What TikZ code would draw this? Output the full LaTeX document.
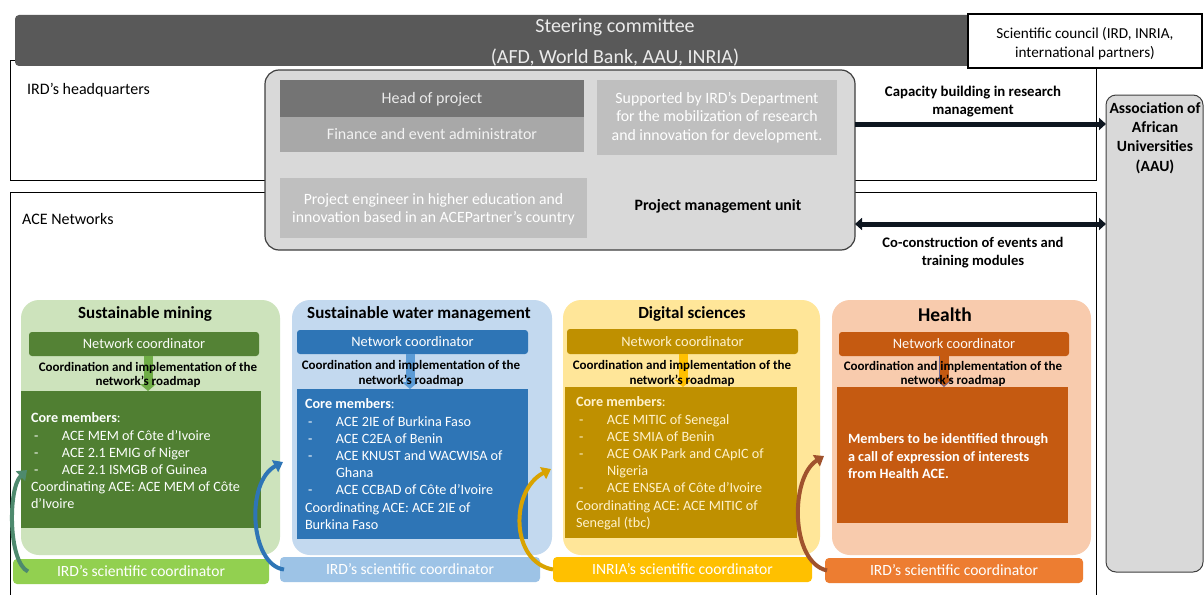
\documentclass[tikz,border=0pt]{standalone}
\usepackage{fontspec}
\setmainfont{Carlito}
\usetikzlibrary{arrows.meta}
\definecolor{steer}{HTML}{595959}
\definecolor{pmufill}{HTML}{D9D9D9}
\definecolor{pmuline}{HTML}{3F3F3F}
\definecolor{headfill}{HTML}{747474}
\definecolor{finfill}{HTML}{A8A8A8}
\definecolor{supfill}{HTML}{BFBFBF}
\definecolor{arrcol}{HTML}{0E1620}
\definecolor{gLight}{HTML}{CDE3BC}
\definecolor{gDark}{HTML}{548235}
\definecolor{gMem}{HTML}{507F32}
\definecolor{gBot}{HTML}{92D050}
\definecolor{gArr}{HTML}{70AD47}
\definecolor{gCurve}{HTML}{4E8A6E}
\definecolor{bLight}{HTML}{C3D9EF}
\definecolor{bDark}{HTML}{2E75B6}
\definecolor{bBot}{HTML}{9DC3E6}
\definecolor{bArr}{HTML}{5B9BD5}
\definecolor{yLight}{HTML}{FFE699}
\definecolor{yDark}{HTML}{BF9000}
\definecolor{yBot}{HTML}{FFC000}
\definecolor{yText}{HTML}{FFF2CC}
\definecolor{oLight}{HTML}{F8CBAD}
\definecolor{oDark}{HTML}{C55A11}
\definecolor{oBot}{HTML}{ED7D31}
\definecolor{oCurve}{HTML}{A0522D}
\newcommand\fsz[2]{\fontsize{#1}{#2}\selectfont}
\newcommand\ditem{\makebox[31pt][l]{\hspace{3pt}-}}
\begin{document}
\begin{tikzpicture}[x=1pt,y=-1pt,
  rbox/.style={inner sep=0pt, outer sep=0pt, anchor=north west, draw=none},
  btxt/.style={inner sep=0pt, outer sep=0pt, align=center},
  bigarr/.style={line width=5pt, draw=arrcol},
  dnarr/.style={line width=9pt, -{Triangle[width=16pt,length=7pt]}},
  curv/.style={line width=4pt, -{Triangle[width=13pt,length=9pt]}},
  title/.style={btxt, font=\fsz{17}{20}\bfseries},
  nctext/.style={btxt, font=\fsz{14.4}{17}},
  bottext/.style={btxt, font=\fsz{15.6}{18}},
  coordtxt/.style={btxt, font=\fsz{13}{14.5}\bfseries},
  memtxt/.style={inner sep=0pt, outer sep=0pt, anchor=north west, align=left, font=\fsz{14.2}{17.2}},
]
\useasboundingbox (0,0) rectangle (1204,594);
\fill[white] (0,0) rectangle (1204,594);

% containers
\draw[line width=0.8pt] (10,60) rectangle (1096,180);
\draw[line width=0.8pt] (10,600) -- (10,192) -- (1096,192) -- (1096,600);
\draw[line width=0.8pt] (1096,60) -- (1096,68);

% steering committee
\node[rbox, fill=steer, rounded corners=4pt, minimum width=1185pt, minimum height=51pt] (steer) at (15,15) {};
\node[btxt, text=white!92!black, font=\fsz{20}{31}] (steertxt) at (615,42.5) {Steering committee\\(AFD, World Bank, AAU, INRIA)};

% scientific council
\node[rbox, fill=white, draw=black, line width=1.2pt, minimum width=234pt, minimum height=54pt] (council) at (968,14) {};
\node[btxt, font=\fsz{15.2}{19}] (counciltxt) at (1085,43.5) {Scientific council (IRD, INRIA,\\international partners)};

% labels
\node[anchor=west, inner sep=0pt, font=\fsz{16}{18}] (hqlbl) at (27,90) {IRD’s headquarters};
\node[anchor=west, inner sep=0pt, font=\fsz{16}{18}] (acelbl) at (22,219) {ACE Networks};

% PMU
\node[rbox, fill=pmufill, draw=pmuline, line width=1.2pt, rounded corners=14pt, minimum width=590pt, minimum height=180pt] (pmu) at (265,70) {};
\node[rbox, fill=headfill, minimum width=304pt, minimum height=37pt] (head) at (280,80) {};
\node[btxt, text=white!92!black, font=\fsz{16}{18}] (headtxt) at ([yshift=-1pt]head.center) {Head of project};
\node[rbox, fill=finfill, minimum width=304pt, minimum height=35pt] (fin) at (280,117) {};
\node[btxt, text=white!95!black, font=\fsz{16}{18}] (fintxt) at (fin.center) {Finance and event administrator};
\node[rbox, fill=supfill, minimum width=240pt, minimum height=75pt] (sup) at (597,80) {};
\node[btxt, text=white, font=\fsz{15.8}{18.5}] (suptxt) at (717,117.5) {Supported by IRD’s Department\\for the mobilization of research\\and innovation for development.};
\node[rbox, fill=supfill, minimum width=307pt, minimum height=60pt] (eng) at (280,178) {};
\node[btxt, text=white, font=\fsz{15.7}{18}] (engtxt) at (433.5,209) {Project engineer in higher education and\\innovation based in an ACEPartner’s country};
\node[btxt, font=\fsz{15.8}{18}\bfseries] (pmutxt) at (718,206) {Project management unit};

% AAU
\node[rbox, fill=pmufill, draw=pmuline, line width=1pt, rounded corners=10pt, minimum width=97pt, minimum height=477pt] (aau) at (1106,95) {};
\node[btxt, font=\fsz{15.6}{19.3}\bfseries] (aautxt) at (1155,138) {Association of\\African\\Universities\\(AAU)};

% big arrows
\coordinate (ya) at (0,124);
\coordinate (yb) at (0,224);
\draw[bigarr, -{Triangle[width=12pt,length=7pt]}] (pmu.east |- ya) -- (aau.west |- ya);
\draw[bigarr, {Triangle[width=12pt,length=7pt]}-{Triangle[width=12pt,length=7pt]}] (pmu.east |- yb) -- (aau.west |- yb);
\node[btxt, font=\fsz{14.8}{18}\bfseries] (captxt) at (973,102) {Capacity building in research\\management};
\node[btxt, font=\fsz{14.6}{18}\bfseries] (cotxt) at (973,253) {Co-construction of events and\\training modules};

% ---------- Panel 1: Sustainable mining
\node[rbox, fill=gLight, rounded corners=18pt, minimum width=259pt, minimum height=255pt] (p1) at (21,300) {};
\node[title] (t1) at (145,313.5) {Sustainable mining};
\node[rbox, fill=gDark, rounded corners=3pt, minimum width=230pt, minimum height=24pt] (nc1) at (29,332) {};
\node[nctext, text=white!90!gLight] (nc1t) at (nc1.center) {Network coordinator};
\node[rbox, fill=gMem, minimum width=240pt, minimum height=137pt] (mem1) at (21,391) {};
\coordinate (c1ref) at (148,373);
\draw[dnarr, draw=gArr] (nc1.south -| c1ref) -- (mem1.north -| c1ref);
\node[coordtxt] (c1) at (148,375) {Coordination and implementation of the\\network’s roadmap};
\node[memtxt, text=white!95!gLight] (m1) at (31,413) {\textbf{Core members}:\\\ditem ACE MEM of Côte d’Ivoire\\\ditem ACE 2.1 EMIG of Niger\\\ditem ACE 2.1 ISMGB of Guinea\\Coordinating ACE: ACE MEM of Côte\\d’Ivoire};
\node[rbox, fill=gBot, rounded corners=4pt, minimum width=256pt, minimum height=25pt] (bot1) at (13,559) {};
\node[bottext, text=white] (bot1t) at (bot1.center) {IRD’s scientific coordinator};

% ---------- Panel 2: Sustainable water management
\node[rbox, fill=bLight, rounded corners=18pt, minimum width=260pt, minimum height=255pt] (p2) at (292,300) {};
\node[title] (t2) at (419,313.5) {Sustainable water management};
\node[rbox, fill=bDark, rounded corners=3pt, minimum width=231pt, minimum height=24pt] (nc2) at (297,330) {};
\node[nctext, text=white] (nc2t) at (nc2.center) {Network coordinator};
\node[rbox, fill=bDark, minimum width=231pt, minimum height=150pt] (mem2) at (297,389) {};
\coordinate (c2ref) at (410,372);
\draw[dnarr, draw=bArr] (nc2.south -| c2ref) -- (mem2.north -| c2ref);
\node[coordtxt] (c2) at (411,373.5) {Coordination and implementation of the\\network’s roadmap};
\node[memtxt, text=white] (m2) at (305,399) {\textbf{Core members}:\\\ditem ACE 2IE of Burkina Faso\\\ditem ACE C2EA of Benin\\\ditem ACE KNUST and WACWISA of\\\hspace*{31pt}Ghana\\\ditem ACE CCBAD of Côte d’Ivoire\\Coordinating ACE: ACE 2IE of\\Burkina Faso};
\node[rbox, fill=bBot, rounded corners=4pt, minimum width=260pt, minimum height=25pt] (bot2) at (280,557) {};
\node[bottext, text=white] (bot2t) at (bot2.center) {IRD’s scientific coordinator};

% ---------- Panel 3: Digital sciences
\node[rbox, fill=yLight, rounded corners=18pt, minimum width=257pt, minimum height=255pt] (p3) at (563,300) {};
\node[title] (t3) at (692,313.5) {Digital sciences};
\node[rbox, fill=yDark, rounded corners=3pt, minimum width=231pt, minimum height=25pt] (nc3) at (567,329) {};
\node[nctext, text=yText] (nc3t) at (nc3.center) {Network coordinator};
\node[rbox, fill=yDark, minimum width=232pt, minimum height=151pt] (mem3) at (565,387) {};
\coordinate (c3ref) at (683,372);
\draw[dnarr, draw=yBot] (nc3.south -| c3ref) -- (mem3.north -| c3ref);
\node[coordtxt] (c3) at (682,373.5) {Coordination and implementation of the\\network’s roadmap};
\node[memtxt, text=yText] (m3) at (576,397) {\textbf{Core members}:\\\ditem ACE MITIC of Senegal\\\ditem ACE SMIA of Benin\\\ditem ACE OAK Park and CApIC of\\\hspace*{31pt}Nigeria\\\ditem ACE ENSEA of Côte d’Ivoire\\Coordinating ACE: ACE MITIC of\\Senegal (tbc)};
\node[rbox, fill=yBot, rounded corners=4pt, minimum width=259pt, minimum height=25pt] (bot3) at (553,557) {};
\node[bottext, text=white] (bot3t) at (bot3.center) {INRIA’s scientific coordinator};

% ---------- Panel 4: Health
\node[rbox, fill=oLight, rounded corners=18pt, minimum width=259pt, minimum height=255pt] (p4) at (832,300) {};
\node[title, font=\fsz{19.5}{22}\bfseries] (t4) at (945,315) {Health};
\node[rbox, fill=oDark, rounded corners=3pt, minimum width=230pt, minimum height=24pt] (nc4) at (839,332) {};
\node[nctext, text=white!90!oLight] (nc4t) at (nc4.center) {Network coordinator};
\node[rbox, fill=oDark, minimum width=231pt, minimum height=136pt] (mem4) at (837,387) {};
\coordinate (c4ref) at (944,372);
\draw[line width=10.5pt, draw=gray!80!blue, -{Triangle[width=17.5pt,length=8pt]}] (nc4.south -| c4ref) -- (mem4.north -| c4ref);
\draw[dnarr, draw=oDark] (nc4.south -| c4ref) -- ([yshift=1.2pt]mem4.north -| c4ref);
\node[coordtxt] (c4) at (953,374) {Coordination and implementation of the\\network’s roadmap};
\node[memtxt, text=white, font=\fsz{14.2}{17.2}\bfseries] (m4) at (848,434) {Members to be identified through\\a call of expression of interests\\from Health ACE.};
\node[rbox, fill=oBot, rounded corners=4pt, minimum width=258pt, minimum height=25pt] (bot4) at (825,558) {};
\node[bottext, text=white] (bot4t) at (bot4.center) {IRD’s scientific coordinator};

% curved arrows
\coordinate (h1) at (27,470);
\coordinate (h2) at (283,462);
\coordinate (h3) at (551,469);
\coordinate (h4) at (824,456);
\draw[curv, draw=gCurve] ([xshift=15pt]bot1.west) .. controls (8,562) and (8,488) .. (h1);
\draw[curv, draw=bDark] ([xshift=4pt]bot2.west) .. controls (250,565) and (245,482) .. (h2);
\draw[curv, draw=yBot!85!black] (bot3.west) .. controls (510,562) and (510,490) .. (h3);
\draw[curv, draw=oCurve] ([xshift=2pt]bot4.west) .. controls (790,562) and (790,477) .. (h4);
\end{tikzpicture}
\end{document}
